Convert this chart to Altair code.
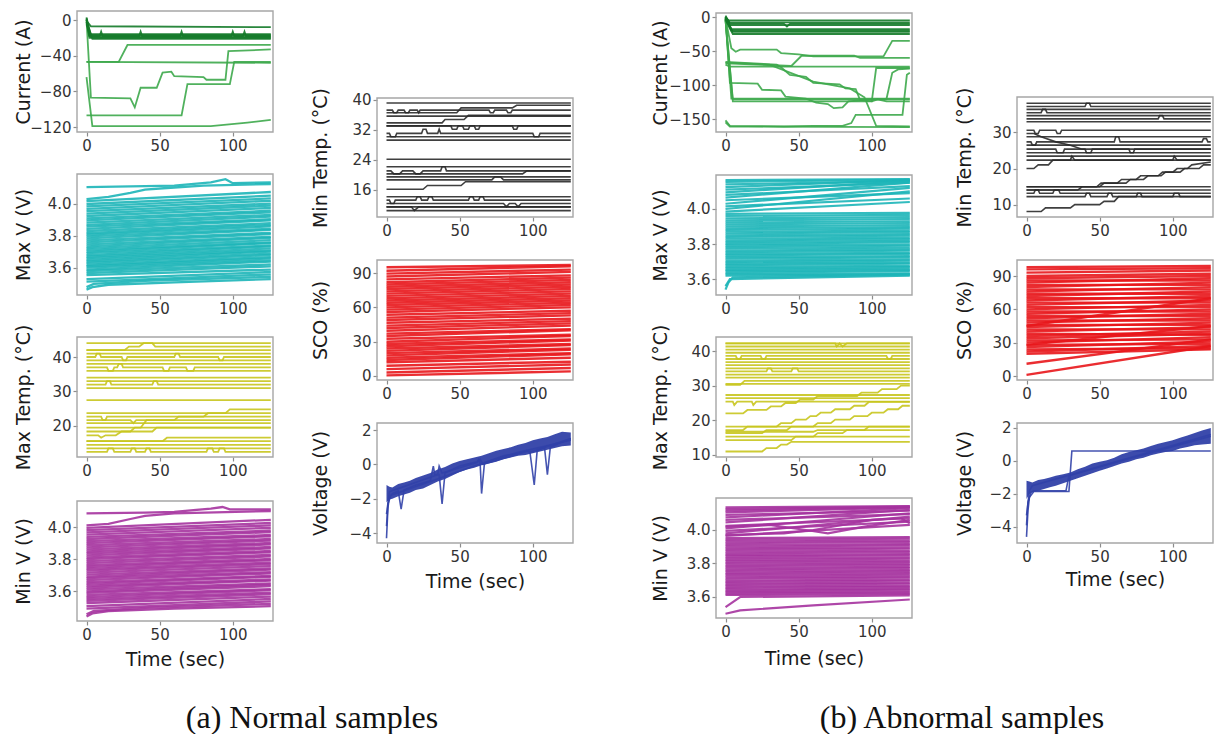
import altair as alt
import pandas as pd

W, H = 1217, 734
T_END = 126
XDOM = [-6.5, 127.5]
XTICKS = [0, 50, 100]

# ---------------- Current (A) ----------------
CUR_A_DARK = [
    [[0, 2], [2, -17], [126, -17]],
    [[0, 1], [2, -18], [9, -18], [10, -13], [11, -18], [36, -18], [37, -13], [38, -18], [64, -18], [65, -13],
     [66, -18], [99, -18], [100, -13], [101, -18], [107, -18], [108, -13], [109, -18], [126, -18]],
    [[0, 3], [3, -19], [126, -19]],
    [[0, -2], [2, -20], [126, -20]],
    [[0, -5], [3, -16], [126, -16]],
    [[0, 0], [4, -21], [126, -21]],
    [[0, -1], [3, -7], [126, -8]],
]
CUR_A_LIGHT = [
    [[0, -47], [126, -48]],
    [[0, -47], [22, -47], [28, -28], [126, -28]],
    [[0, 0], [3, -87], [30, -88], [33, -98], [37, -76], [48, -76], [52, -59], [58, -58], [60, -63], [80, -64],
     [82, -67], [95, -67], [97, -35], [126, -33]],
    [[0, -107], [65, -107], [69, -72], [98, -72], [101, -47], [126, -47]],
    [[0, -64], [4, -119], [85, -119], [110, -115], [126, -112]],
]
CUR_B_DARK = [
    [[0, 0], [2, -5], [126, -5]],
    [[0, -1], [3, -8], [126, -8]],
    [[0, 2], [3, -10], [40, -10], [42, -14], [44, -10], [126, -10]],
    [[0, -3], [3, -12], [126, -12]],
    [[0, 0], [4, -18], [126, -18]],
    [[0, -2], [4, -20], [126, -20]],
    [[0, -1], [5, -22], [126, -22]],
    [[0, -4], [5, -25], [126, -25]],
]
CUR_B_LIGHT = [
    [[0, -2], [4, -46], [7, -51], [10, -48], [35, -48], [38, -53], [50, -55], [60, -58], [108, -58], [114, -35], [126, -35]],
    [[0, -66], [35, -70], [38, -74], [44, -85], [55, -88], [60, -97], [78, -99], [82, -105], [89, -106], [92, -122],
     [100, -124], [103, -75], [126, -75]],
    [[0, -70], [3, -73], [126, -73]],
    [[0, -68], [45, -72], [52, -57], [88, -57], [92, -60], [126, -60]],
    [[0, 0], [3, -97], [22, -98], [25, -107], [38, -108], [41, -117], [55, -120], [62, -126], [70, -128], [74, -134],
     [80, -133], [84, -124], [95, -122], [105, -121], [126, -121]],
    [[0, -3], [4, -120], [126, -120]],
    [[0, -5], [5, -124], [100, -124], [104, -121], [110, -124], [126, -124]],
    [[0, -4], [5, -121], [110, -121], [114, -82], [118, -77], [126, -76]],
    [[0, -67], [30, -70], [60, -95], [85, -105], [95, -118], [103, -160], [126, -161]],
    [[0, -152], [3, -160], [40, -161], [60, -160], [80, -160], [86, -156], [89, -144], [121, -144], [124, -85], [126, -82]],
    [[0, -155], [3, -161], [126, -162]],
]

# ---------------- Max V ----------------
MAXV_A_START = [3.555, 3.568, 3.581, 3.590, 3.602, 3.611, 3.620, 3.632, 3.641, 3.650,
                3.662, 3.671, 3.680, 3.693, 3.702, 3.713, 3.724, 3.735, 3.748, 3.760,
                3.772, 3.785, 3.797, 3.808, 3.818, 3.831, 3.845, 3.858, 3.870, 3.884,
                3.897, 3.910, 3.925, 3.940, 3.955, 3.970, 3.985, 4.000, 4.018]
MAXV_A_END = [3.590, 3.610, 3.622, 3.640, 3.648, 3.660, 3.668, 3.681, 3.690, 3.703,
              3.710, 3.722, 3.735, 3.741, 3.755, 3.760, 3.774, 3.788, 3.795, 3.812,
              3.820, 3.838, 3.845, 3.860, 3.870, 3.880, 3.898, 3.905, 3.921, 3.932,
              3.948, 3.958, 3.975, 3.990, 4.002, 4.020, 4.035, 4.052, 4.075]
MAXV_A_SPECIAL = [
    [[0, 4.105], [30, 4.11], [60, 4.115], [85, 4.135], [95, 4.155], [100, 4.13], [126, 4.135]],
    [[0, 4.03], [15, 4.045], [30, 4.07], [40, 4.09], [55, 4.10], [80, 4.115], [126, 4.125]],
    [[0, 3.465], [4, 3.48], [15, 3.495], [60, 3.51], [126, 3.53]],
    [[0, 3.48], [5, 3.50], [40, 3.52], [126, 3.545]],
    [[0, 3.515], [126, 3.56]],
    [[0, 3.53], [126, 3.575]],
]
MAXV_B_START = [3.620, 3.628, 3.636, 3.645, 3.652, 3.661, 3.670, 3.679, 3.688, 3.697,
                3.706, 3.716, 3.725, 3.735, 3.744, 3.754, 3.763, 3.773, 3.782, 3.792,
                3.801, 3.811, 3.820, 3.830, 3.840, 3.850, 3.860, 3.870, 3.880, 3.890,
                3.901, 3.912, 3.923, 3.935, 3.947, 3.960, 3.972]
MAXV_B_END = [3.628, 3.633, 3.645, 3.651, 3.660, 3.668, 3.675, 3.688, 3.694, 3.705,
              3.712, 3.724, 3.731, 3.744, 3.750, 3.762, 3.770, 3.780, 3.790, 3.798,
              3.810, 3.818, 3.828, 3.836, 3.848, 3.856, 3.868, 3.876, 3.888, 3.897,
              3.908, 3.920, 3.930, 3.942, 3.953, 3.966, 3.978]
MAXV_B_UP_START = [3.985, 4.000, 4.015, 4.030, 4.050, 4.065, 4.080, 4.095, 4.110, 4.125, 4.140, 4.155, 4.165]
MAXV_B_UP_END = [4.040, 4.100, 4.060, 4.120, 4.090, 4.150, 4.130, 4.160, 4.150, 4.165, 4.160, 4.168, 4.170]
MAXV_B_SPECIAL = [
    [[0, 3.54], [2, 3.58], [5, 3.61], [126, 3.625]],
    [[0, 3.56], [3, 3.60], [126, 3.62]],
]

# ---------------- Min V ----------------
MINV_A_START = [3.525, 3.538, 3.550, 3.562, 3.575, 3.588, 3.598, 3.610, 3.622, 3.633,
                3.645, 3.656, 3.668, 3.680, 3.690, 3.702, 3.715, 3.727, 3.738, 3.750,
                3.762, 3.774, 3.787, 3.799, 3.810, 3.823, 3.836, 3.848, 3.860, 3.873,
                3.886, 3.899, 3.912, 3.925, 3.938, 3.952, 3.966, 3.980, 3.995]
MINV_A_END = [3.565, 3.580, 3.590, 3.605, 3.612, 3.630, 3.640, 3.648, 3.665, 3.672,
              3.688, 3.695, 3.710, 3.718, 3.733, 3.741, 3.756, 3.768, 3.777, 3.792,
              3.800, 3.816, 3.826, 3.842, 3.850, 3.866, 3.875, 3.891, 3.900, 3.915,
              3.925, 3.942, 3.950, 3.968, 3.978, 3.995, 4.010, 4.025, 4.045]
MINV_A_SPECIAL = [
    [[0, 4.085], [40, 4.09], [60, 4.095], [85, 4.115], [93, 4.125], [98, 4.11], [126, 4.11]],
    [[0, 4.01], [15, 4.02], [30, 4.05], [40, 4.07], [60, 4.085], [126, 4.10]],
    [[0, 3.44], [4, 3.46], [15, 3.475], [60, 3.49], [126, 3.505]],
    [[0, 3.455], [5, 3.475], [40, 3.495], [126, 3.52]],
    [[0, 3.49], [126, 3.535]],
    [[0, 3.505], [126, 3.55]],
]
MINV_B_START = [3.612, 3.620, 3.628, 3.637, 3.645, 3.654, 3.663, 3.672, 3.681, 3.690,
                3.699, 3.709, 3.718, 3.727, 3.737, 3.746, 3.756, 3.765, 3.775, 3.784,
                3.794, 3.803, 3.813, 3.822, 3.832, 3.842, 3.851, 3.861, 3.871, 3.881,
                3.891, 3.901, 3.911, 3.921, 3.931, 3.941, 3.952]
MINV_B_END = [3.618, 3.626, 3.633, 3.644, 3.650, 3.661, 3.668, 3.679, 3.686, 3.697,
              3.704, 3.716, 3.723, 3.734, 3.742, 3.753, 3.761, 3.772, 3.780, 3.791,
              3.799, 3.810, 3.818, 3.829, 3.837, 3.849, 3.856, 3.868, 3.876, 3.888,
              3.896, 3.908, 3.916, 3.928, 3.936, 3.948, 3.957]
MINV_B_UP_START = [3.965, 3.980, 3.995, 4.010, 4.025, 4.045, 4.060, 4.075, 4.090, 4.105, 4.115, 4.125, 4.135]
MINV_B_UP_END = [4.030, 4.080, 4.050, 4.100, 4.070, 4.120, 4.095, 4.130, 4.115, 4.135, 4.138, 4.140, 4.142]
MINV_B_SPECIAL = [
    [[0, 3.50], [10, 3.52], [60, 3.55], [126, 3.585]],
    [[0, 3.54], [10, 3.60], [126, 3.61]],
    [[0, 3.97], [40, 3.98], [60, 4.00], [80, 4.03], [100, 4.06], [120, 4.07], [126, 4.04]],
    [[0, 4.02], [30, 4.03], [55, 4.00], [70, 3.98], [95, 4.02], [126, 4.06]],
]

# ---------------- SCO ----------------
SCO_A_START = [0.5, 3, 6, 9, 12, 14, 16, 18, 20, 22, 24, 26, 28, 30, 32.5, 35, 37, 39.5, 42, 44, 46.5,
               49, 51, 53.5, 56, 58, 60, 62, 64, 66, 68, 70, 72, 74, 76, 78, 80, 82, 84.5, 87, 89.5, 92, 95]
SCO_A_END = [4, 7, 10, 12.5, 16, 19, 20, 23, 24, 27, 28, 31, 32, 35, 36, 40, 41, 44, 46, 48, 50,
             53, 55, 57, 60, 62, 64, 66, 68, 70, 72, 74, 76, 78, 80, 82, 84, 86, 88, 91, 93, 96, 97]
SCO_B_START = [20, 22, 24, 26, 28, 30, 32, 34, 36, 38, 40, 42, 44, 46, 48, 50, 52, 54, 56, 58,
               60, 62, 64, 66, 68, 70, 72, 74, 76, 78, 80, 82, 84, 86, 88, 90, 93, 96, 98]
SCO_B_END = [24, 27, 25, 31, 29, 35, 33, 38, 40, 37, 44, 42, 48, 46, 52, 50, 56, 54, 60, 58,
             64, 62, 68, 66, 72, 70, 76, 74, 80, 78, 84, 82, 88, 86, 90, 92, 95, 97, 99]
SCO_B_SPECIAL = [
    [[0, 1], [126, 27]],
    [[0, 11], [126, 33]],
    [[0, 45], [126, 70]],
    [[0, 28], [126, 45]],
]

# ---------------- Max Temp ----------------
MAXT_A_LEVELS = [44, 42, 41, 39, 38, 36, 34, 33, 31, 27.5, 23.7, 20.8, 19.5, 15.6, 14.5, 13.5]
MAXT_A_STEPS = [
    [[0, 40], [6, 40], [7, 41], [9, 41], [10, 40], [24, 40], [25, 39], [27, 39], [28, 40], [60, 40], [61, 41],
     [63, 41], [64, 40], [90, 40], [91, 39], [93, 39], [94, 40], [126, 40]],
    [[0, 37], [14, 37], [15, 36], [18, 36], [19, 37], [21, 37], [22, 38], [24, 38], [25, 37], [52, 37], [53, 36],
     [56, 36], [57, 37], [68, 37], [69, 36], [73, 36], [74, 37], [126, 37]],
    [[0, 42], [26, 42], [29, 43], [36, 43], [39, 44], [45, 44], [47, 43], [126, 43]],
    [[0, 32], [13, 32], [14, 33], [16, 33], [17, 32], [45, 32], [46, 33], [48, 33], [49, 32], [126, 32]],
    [[0, 22.7], [10, 22.7], [11, 21.7], [13, 21.7], [14, 22.7], [126, 22.7]],
    [[0, 17.3], [8, 17.3], [10, 16.6], [13, 17.3], [20, 17.3], [24, 18.4], [30, 18.4], [33, 19.5], [37, 19.5],
     [41, 21.7], [60, 21.7], [63, 22.7], [80, 22.7], [83, 23.7], [95, 23.7], [98, 24.8], [126, 24.8]],
    [[0, 21.7], [30, 21.7], [32, 20.8], [34, 21.7], [126, 21.7]],
    [[0, 18.4], [45, 18.4], [48, 19.5], [126, 19.5]],
    [[0, 12.5], [14, 12.5], [15, 13.5], [18, 13.5], [19, 12.5], [30, 12.5], [31, 13.5], [33, 13.5], [34, 12.5],
     [40, 12.5], [41, 13.5], [43, 13.5], [44, 12.5], [82, 12.5], [83, 13.5], [86, 13.5], [87, 12.5], [90, 12.5],
     [91, 13.5], [94, 13.5], [95, 12.5], [126, 12.5]],
    [[0, 15.6], [52, 15.6], [55, 16.6], [126, 16.6]],
]
MAXT_B_LEVELS = [42.2, 41.3, 40.4, 39.5, 37.7, 36.8, 35.9, 35.0, 33.2, 32.3, 30.5, 27.3, 26.4, 18.2, 15.3]
MAXT_B_STEPS = [
    [[0, 38.6], [7, 38.6], [8, 37.7], [10, 37.7], [11, 38.6], [24, 38.6], [25, 37.7], [27, 37.7], [28, 38.6],
     [110, 38.6], [111, 37.7], [113, 37.7], [114, 38.6], [126, 38.6]],
    [[0, 34.1], [28, 34.1], [29, 35.0], [31, 35.0], [32, 34.1], [45, 34.1], [46, 35.0], [49, 35.0], [50, 34.1], [126, 34.1]],
    [[0, 30.2], [10, 30.2], [13, 31.4], [126, 31.4]],
    [[0, 42.2], [75, 42.2], [76, 41.3], [78, 42.2], [80, 41.3], [83, 42.2], [126, 42.2]],
    [[0, 25.4], [5, 25.4], [6, 24.4], [8, 25.4], [18, 25.4], [19, 24.4], [21, 25.4], [126, 25.4]],
    [[0, 22], [12, 22], [15, 23], [28, 23], [31, 24], [38, 24], [41, 25], [48, 25], [51, 26], [60, 26], [63, 27],
     [90, 27], [93, 28], [104, 28], [107, 29], [117, 29], [120, 30], [126, 30]],
    [[0, 17.2], [12, 17.2], [15, 18.2], [35, 18.2], [38, 19.2], [45, 19.2], [48, 20.2], [55, 20.2], [58, 21.2],
     [62, 21.2], [65, 22.2], [72, 22.2], [75, 23.2], [85, 23.2], [88, 24.2], [95, 24.2], [98, 25.3], [126, 25.3]],
    [[0, 16.3], [25, 16.3], [28, 17.2], [42, 17.2], [45, 18.2], [60, 18.2], [63, 19.2], [72, 19.2], [75, 20.2],
     [85, 20.2], [88, 21.2], [97, 21.2], [100, 22.2], [108, 22.2], [111, 23.2], [118, 23.2], [121, 24.2], [126, 24.2]],
    [[0, 11], [25, 11], [28, 12], [35, 12], [38, 13], [42, 13], [45, 13.8], [126, 13.8]],
    [[0, 14.3], [45, 14.3], [48, 15.3], [60, 15.3], [63, 16.3], [80, 16.3], [83, 17.2], [95, 17.2], [98, 18.2], [126, 18.2]],
    [[0, 16.7], [60, 16.7], [63, 17.2], [126, 17.2]],
]

# ---------------- Min Temp ----------------
MINT_A_LEVELS = [39.2, 35.7, 33.1, 30.2, 29.3, 24.2, 22.2, 19.5, 14.2, 11.5, 10.5]
MINT_A_STEPS = [
    [[0, 37.3], [4, 37.3], [5, 36.6], [7, 36.6], [8, 37.3], [12, 37.3], [13, 36.6], [15, 36.6], [16, 37.3],
     [21, 37.3], [22, 36.6], [23, 37.3], [70, 37.3], [71, 36.6], [73, 36.6], [74, 37.3], [82, 37.3], [83, 36.6],
     [85, 36.6], [86, 37.3], [126, 37.3]],
    [[0, 36.6], [48, 36.6], [51, 37.9], [86, 37.9], [89, 38.6], [126, 38.6]],
    [[0, 33.9], [38, 33.9], [40, 34.8], [53, 34.8], [56, 35.9], [126, 35.9]],
    [[0, 33.1], [44, 33.1], [45, 32.2], [48, 32.2], [49, 33.1], [52, 33.1], [53, 32.2], [56, 32.2], [57, 33.1],
     [60, 33.1], [61, 32.2], [63, 32.2], [64, 33.1], [86, 33.1], [87, 32.2], [89, 32.2], [90, 33.1], [126, 33.1]],
    [[0, 31.1], [2, 31.1], [3, 30.2], [6, 30.2], [7, 31.1], [24, 31.1], [25, 32.2], [27, 32.2], [28, 31.1],
     [35, 31.1], [36, 32.2], [37, 31.1], [100, 31.1], [101, 30.2], [104, 30.2], [105, 31.1], [126, 31.1]],
    [[0, 21.1], [3, 21.1], [5, 20.3], [9, 20.3], [11, 21.1], [18, 21.1], [20, 20.3], [23, 20.3], [25, 21.1],
     [37, 21.1], [38, 22.2], [40, 22.2], [41, 21.1], [126, 21.1]],
    [[0, 20.3], [93, 20.3], [96, 21.1], [126, 21.1]],
    [[0, 18.7], [72, 18.7], [74, 19.5], [78, 19.5], [80, 18.7], [126, 18.7]],
    [[0, 16.2], [25, 16.2], [28, 17.2], [51, 17.2], [54, 18.2], [126, 18.2]],
    [[0, 13.3], [2, 13.3], [3, 12.4], [5, 12.4], [6, 13.3], [20, 13.3], [21, 14.2], [23, 14.2], [24, 13.3],
     [28, 13.3], [29, 14.2], [31, 14.2], [32, 13.3], [56, 13.3], [57, 14.2], [59, 14.2], [60, 13.3], [63, 13.3],
     [64, 14.2], [66, 14.2], [67, 13.3], [126, 13.3]],
    [[0, 12.4], [80, 12.4], [82, 11.5], [84, 12.4], [88, 12.4], [90, 11.5], [92, 12.4], [126, 12.4]],
    [[0, 11.5], [17, 11.5], [19, 10.5], [22, 11.5], [126, 11.5]],
]
MINT_B_LEVELS = [37.9, 36.2, 34.5, 32.8, 28.7, 26.4, 24.3, 23.4, 15.0, 14.1]
MINT_B_STEPS = [
    [[0, 37.0], [40, 37.0], [41, 37.9], [43, 37.9], [44, 37.0], [126, 37.0]],
    [[0, 35.3], [10, 35.3], [11, 36.2], [13, 36.2], [14, 35.3], [126, 35.3]],
    [[0, 33.6], [90, 33.6], [91, 34.5], [93, 34.5], [94, 33.6], [126, 33.6]],
    [[0, 30.5], [5, 30.5], [6, 29.6], [8, 29.6], [9, 30.5], [20, 30.5], [21, 29.6], [23, 29.6], [24, 30.5], [126, 30.5]],
    [[0, 29.6], [5, 29.6], [10, 28.7], [20, 27.3], [30, 26.4], [38, 25.3], [126, 25.3]],
    [[0, 27.3], [3, 27.3], [4, 26.4], [6, 26.4], [7, 27.3], [60, 27.3], [61, 28.7], [63, 28.7], [64, 27.3],
     [120, 27.3], [121, 28.2], [123, 28.2], [124, 27.3], [126, 27.3]],
    [[0, 25.3], [20, 25.3], [21, 24.3], [25, 24.3], [26, 25.3], [40, 25.3], [41, 24.3], [44, 24.3], [45, 25.3],
     [70, 25.3], [71, 24.3], [73, 24.3], [74, 25.3], [126, 25.3]],
    [[0, 22.3], [30, 22.3], [31, 23.4], [33, 22.3], [100, 22.3], [101, 23.4], [103, 22.3], [126, 22.3]],
    [[0, 20], [5, 20], [8, 21], [15, 21], [18, 22.3], [126, 22.3]],
    [[0, 8.2], [10, 8.2], [13, 9.2], [30, 9.2], [33, 10.1], [50, 10.1], [53, 11], [60, 11], [63, 12.3], [126, 12.3]],
    [[0, 14.1], [35, 14.1], [38, 15], [48, 15], [51, 16], [62, 16], [65, 17], [75, 17], [78, 18], [90, 18], [93, 19],
     [105, 19], [108, 20], [118, 20], [121, 21], [126, 21]],
    [[0, 15], [50, 15], [53, 16], [68, 16], [71, 17], [80, 17], [83, 18], [92, 18], [95, 19], [100, 19], [103, 20],
     [110, 20], [113, 21], [126, 21.8]],
    [[0, 13.2], [5, 13.2], [6, 14.1], [8, 14.1], [9, 13.2], [18, 13.2], [19, 14.1], [22, 14.1], [23, 13.2], [126, 13.2]],
    [[0, 12.3], [40, 12.3], [41, 13.2], [43, 13.2], [44, 12.3], [55, 12.3], [56, 13.2], [58, 13.2], [59, 12.3],
     [75, 12.3], [76, 13.2], [78, 13.2], [79, 12.3], [100, 12.3], [101, 13.2], [104, 13.2], [105, 12.3], [126, 12.3]],
]

# ---------------- Voltage ----------------
VOLT_T = [0, 2, 4, 8, 12, 16, 20, 25, 30, 35, 40, 45, 50, 55, 60, 65, 70, 75, 80, 85, 90, 95, 100, 105, 110, 115, 120, 126]
VOLT_A_HI = [-1.2, -1.3, -1.35, -1.15, -1.05, -0.95, -0.8, -0.65, -0.5, -0.3, -0.15, 0.05, 0.2, 0.3, 0.4, 0.5,
             0.65, 0.8, 0.9, 1.0, 1.15, 1.25, 1.4, 1.5, 1.6, 1.75, 1.9, 1.85]
VOLT_A_LO = [-2.2, -2.05, -2.0, -1.85, -1.75, -1.65, -1.5, -1.4, -1.2, -1.0, -0.85, -0.65, -0.45, -0.3, -0.2,
             -0.05, 0.05, 0.15, 0.3, 0.4, 0.5, 0.55, 0.65, 0.75, 0.85, 0.95, 1.05, 1.1]
VOLT_A_LINES = [
    [[0, -4.3], [1, -2.5], [2, -1.9], [4, -1.7], [8, -1.55], [10, -2.6], [12, -1.5], [20, -1.2], [30, -0.95],
     [32, -0.1], [33, -0.6], [36, -0.6], [38, -2.3], [40, -0.5], [50, -0.1], [62, 0.15], [63, 0.3], [64, 0.1],
     [65, -1.7], [67, 0.1], [80, 0.5], [96, 0.75], [98, 0.75], [101, -1.2], [103, 0.8], [108, 1.0], [110, -0.6],
     [112, 1.0], [120, 1.3], [126, 1.5]],
    [[0, -3.6], [1, -2.3], [3, -1.8], [30, -1.0], [60, -0.1], [90, 0.7], [126, 1.4]],
    [[0, -2.9], [2, -1.6], [5, -1.5], [35, -0.6], [36, -0.1], [38, -0.5], [62, 0.1], [64, 0.3], [66, 0.0],
     [94, 0.7], [96, 0.8], [98, 0.7], [126, 1.5]],
]
VOLT_B_HI = [-1.2, -1.25, -1.3, -1.15, -1.1, -1.0, -0.9, -0.8, -0.7, -0.5, -0.35, -0.15, -0.05, 0.05, 0.2, 0.4,
             0.55, 0.65, 0.75, 0.9, 1.05, 1.15, 1.25, 1.4, 1.55, 1.7, 1.85, 2.0]
VOLT_B_LO = [-2.3, -2.0, -1.9, -1.8, -1.7, -1.6, -1.5, -1.35, -1.2, -1.05, -0.9, -0.75, -0.6, -0.45, -0.3,
             -0.15, -0.05, 0.1, 0.2, 0.35, 0.45, 0.55, 0.6, 0.75, 0.85, 0.95, 1.0, 1.05]
VOLT_B_LINES = [
    [[0, -4.6], [1, -3.0], [2, -2.2], [5, -1.85], [29, -1.85], [31, 0.6], [126, 0.6]],
    [[0, -3.9], [1, -2.5], [3, -1.9], [5, -1.8], [27, -1.8], [29, -0.9], [60, -0.1], [126, 1.5]],
    [[0, -3.3], [2, -1.8], [4, -1.5], [126, 1.6]],
]

# ---------------- styling ----------------
C_CUR_DARK = "#137a28"
C_CUR = "#3da84b"
C_MAXV = "#1db5b8"
C_MAXT = "#c8c51e"
C_MINV = "#a5339f"
C_MINT = "#2a2a2a"
C_SCO = "#e8161b"
C_VOLT = "#3141a8"
FRAME = "#a6a6a6"

ONE = pd.DataFrame({"k": [0]})


def straight(starts, ends):
    return [[[0, s], [T_END, e]] for s, e in zip(starts, ends)]


def flat(levels):
    return [[[0, lv], [T_END, lv]] for lv in levels]


def make_df(groups):
    rows = []
    n = 0
    for lines, color in groups:
        for pts in lines:
            for t, v in pts:
                rows.append({"id": n, "t": t, "v": v, "c": color})
            n += 1
    return pd.DataFrame(rows)


def panel(df, xr, ybox, ydom, yticks, yfmt, ytitle, yext, xtitle=None, xpad=7,
          sw=1.6, op=0.9, band=None):
    top, bottom = ybox
    xsc = alt.Scale(domain=XDOM, range=xr, nice=False, zero=False)
    ysc = alt.Scale(domain=ydom, range=[bottom, top], nice=False, zero=False)
    xax = alt.Axis(orient="bottom", offset=bottom - H, values=XTICKS, format="d",
                   title=xtitle, titlePadding=xpad, minExtent=22, maxExtent=22)
    yax = alt.Axis(orient="left", offset=-xr[0], values=yticks, format=yfmt,
                   title=ytitle, titlePadding=0, minExtent=yext, maxExtent=yext)
    layers = []
    if band is not None:
        bdf, bcolor = band
        layers.append(
            alt.Chart(bdf).mark_area(color=bcolor, opacity=0.95).encode(
                x=alt.X("t:Q", scale=xsc, axis=xax),
                y=alt.Y("lo:Q", scale=ysc, axis=yax),
                y2="hi:Q",
            )
        )
    layers.append(
        alt.Chart(df).mark_line(strokeWidth=sw, opacity=op).encode(
            x=alt.X("t:Q", scale=xsc, axis=xax),
            y=alt.Y("v:Q", scale=ysc, axis=yax),
            detail="id:N",
            color=alt.Color("c:N", scale=None, legend=None),
        )
    )
    layers.append(
        alt.Chart(ONE).mark_rect(filled=False, stroke=FRAME, strokeWidth=1.4).encode(
            x=alt.datum(XDOM[0]), x2=alt.datum(XDOM[1]),
            y=alt.datum(ydom[0]), y2=alt.datum(ydom[1]),
        )
    )
    return alt.layer(*layers)


# frame x ranges
XA_L = [77, 273]
XA_R = [377, 573]
XB_L = [716, 912]
XB_R = [1017, 1213]

panels = [
    # (a) left column
    panel(make_df([(CUR_A_LIGHT, C_CUR), (CUR_A_DARK, C_CUR_DARK)]), XA_L, (11, 132), [-125.6, 10.1],
          [0, -40, -80, -120], "d", "Current (A)", 44, sw=1.8),
    panel(make_df([(straight(MAXV_A_START, MAXV_A_END), C_MAXV), (MAXV_A_SPECIAL, C_MAXV)]), XA_L, (174, 295),
          [3.431, 4.1875], [3.6, 3.8, 4.0], ".1f", "Max V (V)", 44, sw=2.3),
    panel(make_df([(flat(MAXT_A_LEVELS), C_MAXT), (MAXT_A_STEPS, C_MAXT)]), XA_L, (337, 457), [11.0, 45.8],
          [20, 30, 40], "d", "Max Temp. (°C)", 44, sw=1.8),
    panel(make_df([(straight(MINV_A_START, MINV_A_END), C_MINV), (MINV_A_SPECIAL, C_MINV)]), XA_L, (501, 621),
          [3.4125, 4.1625], [3.6, 3.8, 4.0], ".1f", "Min V (V)", 44, xtitle="Time (sec)", xpad=7, sw=2.3),
    # (a) right column
    panel(make_df([(flat(MINT_A_LEVELS), C_MINT), (MINT_A_STEPS, C_MINT)]), XA_R, (98, 217), [8.8, 40.53],
          [16, 24, 32, 40], "d", "Min Temp. (°C)", 47, sw=1.6),
    panel(make_df([(straight(SCO_A_START, SCO_A_END), C_SCO)]), XA_R, (260, 380), [-3.5, 101.4],
          [0, 30, 60, 90], "d", "SCO (%)", 47, sw=2.4),
    panel(make_df([(VOLT_A_LINES, C_VOLT)]), XA_R, (423, 543), [-4.58, 2.41], [-4, -2, 0, 2], "d",
          "Voltage (V)", 47, xtitle="Time (sec)", xpad=7, sw=1.6,
          band=(pd.DataFrame({"t": VOLT_T, "lo": VOLT_A_LO, "hi": VOLT_A_HI}), C_VOLT)),
    # (b) left column
    panel(make_df([(CUR_B_LIGHT, C_CUR), (CUR_B_DARK, C_CUR_DARK)]), XB_L, (13, 132), [-169.1, 5.9],
          [0, -50, -100, -150], "d", "Current (A)", 46, sw=1.8),
    panel(make_df([(straight(MAXV_B_START, MAXV_B_END), C_MAXV), (straight(MAXV_B_UP_START, MAXV_B_UP_END), C_MAXV),
                   (MAXV_B_SPECIAL, C_MAXV)]), XB_L, (175, 295), [3.509, 4.194], [3.6, 3.8, 4.0], ".1f",
          "Max V (V)", 46, sw=2.2),
    panel(make_df([(flat(MAXT_B_LEVELS), C_MAXT), (MAXT_B_STEPS, C_MAXT)]), XB_L, (337, 457), [9.42, 44.04],
          [10, 20, 30, 40], "d", "Max Temp. (°C)", 46, sw=1.8),
    panel(make_df([(straight(MINV_B_START, MINV_B_END), C_MINV), (straight(MINV_B_UP_START, MINV_B_UP_END), C_MINV),
                   (MINV_B_SPECIAL, C_MINV)]), XB_L, (498, 618), [3.4746, 4.191], [3.6, 3.8, 4.0], ".1f",
          "Min V (V)", 46, xtitle="Time (sec)", xpad=9, sw=2.2),
    # (b) right column
    panel(make_df([(flat(MINT_B_LEVELS), C_MINT), (MINT_B_STEPS, C_MINT)]), XB_R, (97, 217), [6.71, 39.6],
          [10, 20, 30], "d", "Min Temp. (°C)", 43, sw=1.6),
    panel(make_df([(straight(SCO_B_START, SCO_B_END), C_SCO), (SCO_B_SPECIAL, C_SCO)]), XB_R, (260, 380),
          [-3.6, 104.4], [0, 30, 60, 90], "d", "SCO (%)", 43, sw=2.4),
    panel(make_df([(VOLT_B_LINES, C_VOLT)]), XB_R, (423, 543), [-4.97, 2.30], [-4, -2, 0, 2], "d",
          "Voltage (V)", 43, xtitle="Time (sec)", xpad=5, sw=1.6,
          band=(pd.DataFrame({"t": VOLT_T, "lo": VOLT_B_LO, "hi": VOLT_B_HI}), C_VOLT)),
]

cap_a = alt.Chart(ONE).mark_text(text="(a) Normal samples", font="Liberation Serif", fontSize=32,
                                 color="#111111").encode(x=alt.value(312), y=alt.value(718))
cap_b = alt.Chart(ONE).mark_text(text="(b) Abnormal samples", font="Liberation Serif", fontSize=32,
                                 color="#111111").encode(x=alt.value(962), y=alt.value(718))

chart = alt.layer(*panels, cap_a, cap_b).resolve_scale(
    x="independent", y="independent"
).resolve_axis(
    x="independent", y="independent"
).properties(
    width=W, height=H, autosize=alt.AutoSizeParams(type="none"), padding=0, background="white"
).configure_view(
    strokeWidth=0
).configure_axis(
    labelFont="DejaVu Sans", labelFontSize=15, labelColor="#333333", labelPadding=2,
    labelFlush=False, labelOverlap=False, labelBound=False,
    titleFont="DejaVu Sans", titleFontSize=19, titleFontWeight="normal", titleColor="#1a1a1a",
    tickColor="#8c8c8c", tickSize=4, tickWidth=1.2, domain=False, grid=False,
)

chart.save("out.html", embed_options={"renderer": "svg", "actions": False})
